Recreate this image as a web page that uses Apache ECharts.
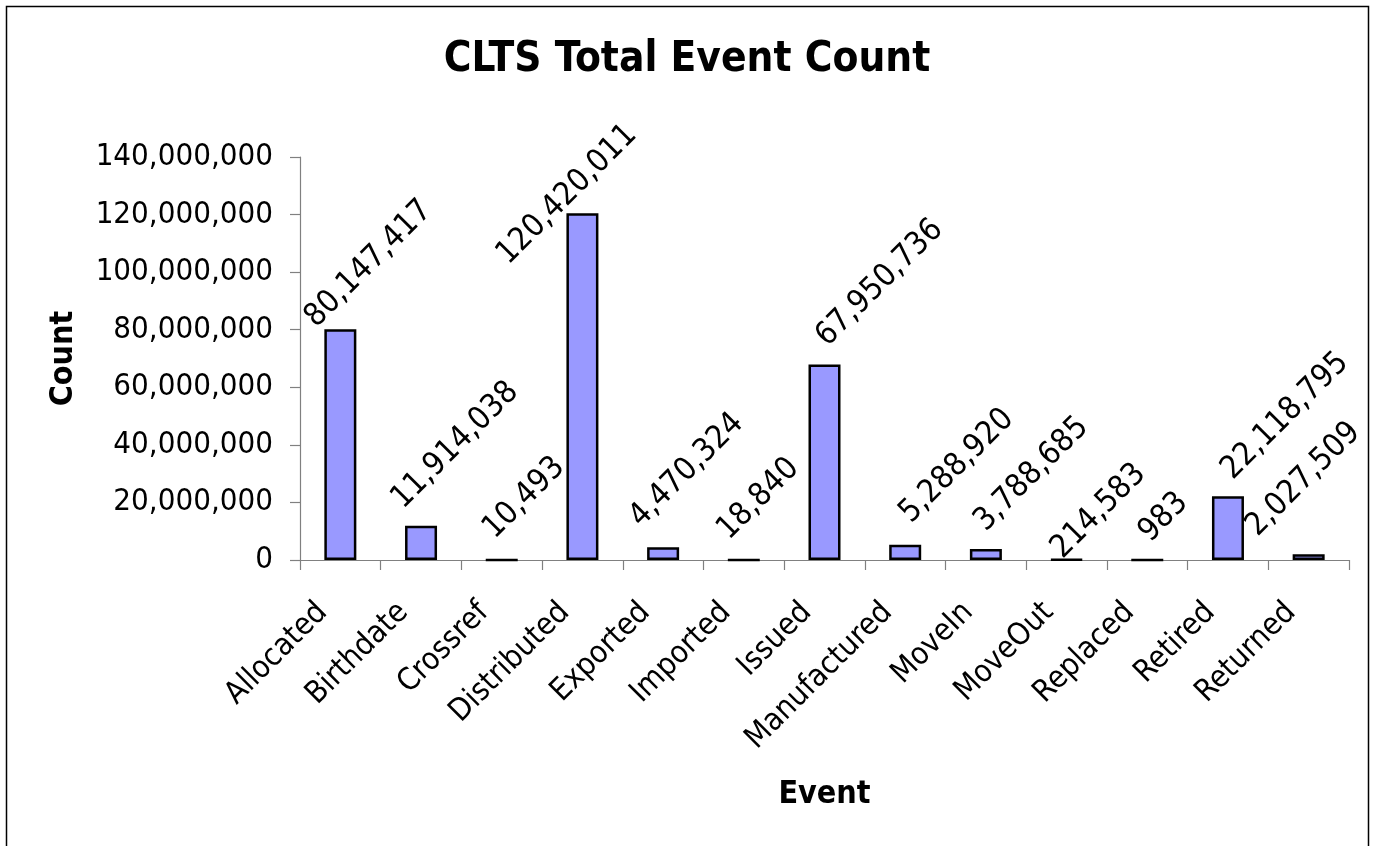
<!DOCTYPE html>
<html>
<head>
<meta charset="utf-8">
<script src="https://cdn.jsdelivr.net/npm/echarts@6/dist/echarts.min.js"></script>
<style>
html,body{margin:0;padding:0;background:#fff;}
#chart{width:1374px;height:846px;}
</style>
</head>
<body>
<div id="chart"></div>
<script>
const categories = ['Allocated','Birthdate','Crossref','Distributed','Exported','Imported','Issued','Manufactured','MoveIn','MoveOut','Replaced','Retired','Returned'];
const counts = [80147417, 11914038, 10493, 120420011, 4470324, 18840, 67950736, 5288920, 3788685, 214583, 983, 22118795, 2027509];
const yTicks = { min: 0, max: 140000000, interval: 20000000 };
const titleText = 'CLTS Total Event Count';
const xName = 'Event';
const yName = 'Count';

// screen-space label nudges (style only), matching the hand-placed labels in the reference
const labelNudge = [[-41,-12],[-35,-27],[-24,-30],[-91,41],[-39,-30],[-32,-29],[-14,-28],[-11,-32],[-17,-28],[-21,-10],[-14,-27],[-12,-27],[-68,-28]];
const nudgeShift = [11, 5];
const ROT = 45;
// label offset is applied in the rotated frame; convert screen nudge to local
function toLocal(n) {
  const a = ROT * Math.PI / 180, c = Math.cos(a), s = Math.sin(a);
  const sx = n[0] + nudgeShift[0], sy = n[1] + nudgeShift[1];
  return [c * sx - s * sy, s * sx + c * sy];
}

const FONT = "'DejaVu Sans Condensed', 'DejaVu Sans', sans-serif";
const fmt = v => Number(v).toLocaleString('en-US');

const chart = echarts.init(document.getElementById('chart'), null, {renderer:'canvas'});
chart.setOption({
  backgroundColor: '#ffffff',
  animation: false,
  title: {
    text: titleText, left: 'center', top: 34,
    textStyle: { fontFamily: FONT, fontSize: 42, fontWeight: 'bold', color: '#000' }
  },
  graphic: [{
    type: 'rect', silent: true, z: -1,
    shape: { x: 6.5, y: 6.5, width: 1362, height: 860 },
    style: { fill: 'none', stroke: '#000', lineWidth: 1.5 }
  }],
  grid: { left: 300, right: 25, top: 157, bottom: 286, containLabel: false },
  xAxis: {
    type: 'category', data: categories,
    name: xName, nameLocation: 'middle', nameGap: 219,
    nameTextStyle: { fontFamily: FONT, fontSize: 32, fontWeight: 'bold', color: '#000' },
    axisLine: { lineStyle: { color: '#808080', width: 1.2 } },
    axisTick: { show: true, length: 10, alignWithLabel: false, lineStyle: { color: '#808080', width: 1.2 } },
    axisLabel: { rotate: 45, margin: 30, padding: [0, 25, 0, 0], interval: 0, fontFamily: FONT, fontSize: 31, color: '#000' }
  },
  yAxis: {
    type: 'value', min: yTicks.min, max: yTicks.max, interval: yTicks.interval,
    name: yName, nameLocation: 'middle', nameGap: 220, nameRotate: 90,
    nameTextStyle: { fontFamily: FONT, fontSize: 32, fontWeight: 'bold', color: '#000' },
    splitLine: { show: false },
    axisLine: { show: true, lineStyle: { color: '#808080', width: 1.2 } },
    axisTick: { show: true, length: 10, inside: false, lineStyle: { color: '#808080', width: 1.2 } },
    axisLabel: { margin: 27, fontFamily: FONT, fontSize: 31, color: '#000', formatter: fmt }
  },
  series: [{
    type: 'bar',
    barWidth: 32,
    data: counts.map((v, i) => ({
      value: v,
      label: { offset: toLocal(labelNudge[i]) }
    })),
    itemStyle: { color: '#9999FF', borderColor: '#000', borderWidth: 2.5 },
    label: {
      show: true, position: 'top', distance: 0, rotate: ROT,
      align: 'left', verticalAlign: 'middle',
      fontFamily: FONT, fontSize: 32, color: '#000',
      formatter: p => fmt(p.value)
    }
  }]
});
</script>
</body>
</html>
